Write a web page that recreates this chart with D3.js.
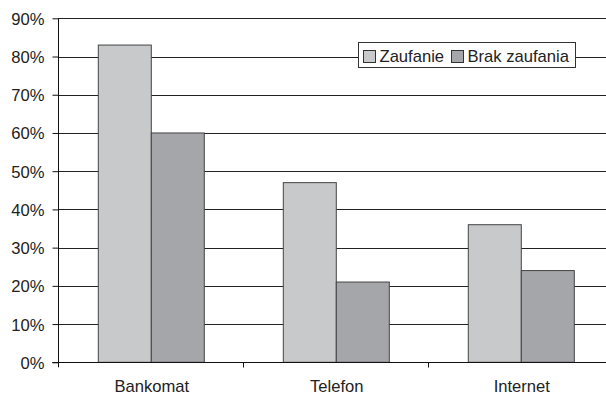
<!DOCTYPE html>
<html><head><meta charset="utf-8">
<script src="https://cdn.jsdelivr.net/npm/d3@7"></script>
<style>body{margin:0;background:#fff}svg{display:block}text{font-family:"Liberation Sans",Arial,sans-serif;fill:#222}</style>
</head><body><svg id="c" width="606" height="396"></svg>
<script>
const categories = ["Bankomat", "Telefon", "Internet"];
const seriesNames = ["Zaufanie", "Brak zaufania"];
const zaufanie = [83, 47, 36];
const brakZaufania = [60, 21, 24];
const yTicks = [0, 10, 20, 30, 40, 50, 60, 70, 80, 90];
const colors = ["#c8c9cb", "#a5a6a9"];

const svg = d3.select("#c");
const m = {l: 58.3, t: 18.3, r: 613.3, b: 362.3};
const x = d3.scaleBand().domain(categories).range([m.l, m.r]).padding(0);
const y = d3.scaleLinear().domain([0, 90]).range([m.b, m.t]);
const bw = 53;
const xs = d3.scaleBand().domain(seriesNames).range([0, bw * 2]);
const fs = "16.6px";

// gridlines
svg.append("g").selectAll("line").data(yTicks.filter(d => d > 0)).join("line")
  .attr("x1", m.l).attr("x2", m.r)
  .attr("y1", d => Math.round(y(d)) + 0.5).attr("y2", d => Math.round(y(d)) + 0.5)
  .attr("stroke", "#222").attr("stroke-width", 1);

// bars
const data = categories.map((c, i) => ({c, vals: [zaufanie[i], brakZaufania[i]]}));
const g = svg.append("g").selectAll("g").data(data).join("g")
  .attr("transform", d => `translate(${x(d.c) + x.bandwidth() / 2 - bw},0)`);
g.selectAll("rect").data(d => d.vals.map((v, j) => ({v, s: seriesNames[j], j}))).join("rect")
  .attr("x", d => xs(d.s) + 0.5).attr("width", xs.bandwidth())
  .attr("y", d => y(d.v)).attr("height", d => y(0) - y(d.v))
  .attr("fill", d => colors[d.j]).attr("stroke", "#444").attr("stroke-width", 1);

// y axis
const ya = svg.append("g").attr("transform", `translate(${Math.round(m.l) + 0.5},0)`)
  .call(d3.axisLeft(y).tickValues(yTicks).tickFormat(d => d + "%").tickSize(6).tickPadding(8));
ya.select(".domain").attr("stroke", "#111").attr("d", `M0,${m.t}V${m.b + 5}`);
ya.selectAll(".tick line").attr("stroke", "#111");
ya.selectAll("text").style("font-size", fs).attr("fill", "#222").attr("dy", "0.36em");

// x axis
const xa = svg.append("g").attr("transform", `translate(0,${Math.round(m.b) + 0.5})`);
xa.append("line").attr("x1", m.l - 6).attr("x2", m.r).attr("stroke", "#111");
xa.selectAll(".tk").data(categories.slice(1).map(c => x(c))).join("line")
  .attr("x1", d => Math.round(d) + 0.5).attr("x2", d => Math.round(d) + 0.5)
  .attr("y1", 0).attr("y2", 5).attr("stroke", "#111");
xa.selectAll("text").data(categories).join("text")
  .attr("x", d => x(d) + x.bandwidth() / 2 + 1).attr("y", 29.5)
  .attr("text-anchor", "middle").style("font-size", fs).text(d => d);

// legend
const lg = svg.append("g").attr("transform", "translate(358.5,42.5)");
lg.append("rect").attr("width", 217).attr("height", 25).attr("fill", "#fff").attr("stroke", "#333");
const items = [{n: seriesNames[0], x: 5, tx: 21}, {n: seriesNames[1], x: 93, tx: 109}];
items.forEach((it, j) => {
  lg.append("rect").attr("x", it.x).attr("y", 8).attr("width", 12).attr("height", 12)
    .attr("fill", colors[j]).attr("stroke", "#333");
  lg.append("text").attr("x", it.tx).attr("y", 19.5).style("font-size", fs).text(it.n);
});
</script></body></html>
